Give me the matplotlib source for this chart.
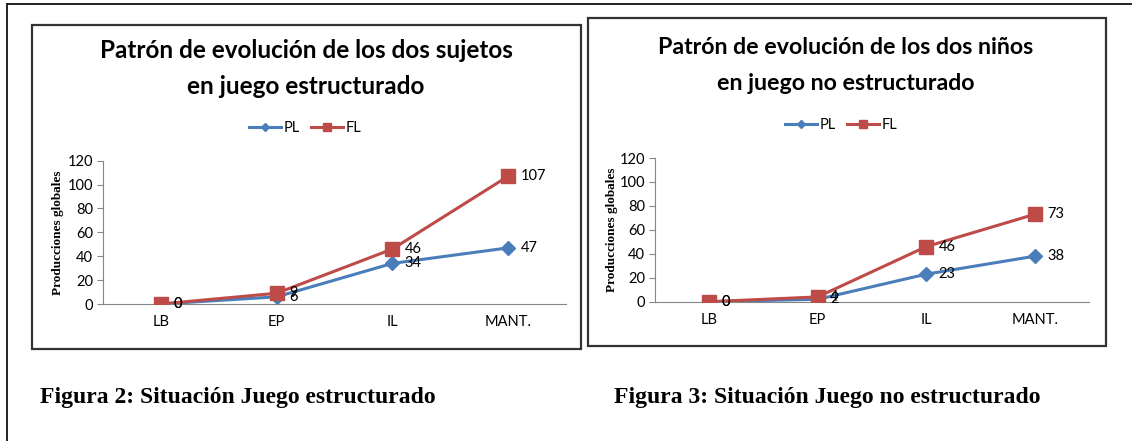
import matplotlib
matplotlib.use("Agg")
import matplotlib.pyplot as plt
from matplotlib.patches import Rectangle
from matplotlib.lines import Line2D

# data
categories = ["LB", "EP", "IL", "MANT."]
pl_estructurado = [0, 6, 34, 47]
fl_estructurado = [0, 9, 46, 107]
pl_no_estructurado = [0, 2, 23, 38]
fl_no_estructurado = [0, 4, 46, 73]

titles = [
    ("Patrón de evolución de los dos sujetos", "en juego estructurado"),
    ("Patrón de evolución de los dos niños", "en juego no estructurado"),
]
captions = ["Figura 2: Situación Juego estructurado",
            "Figura 3: Situación Juego no estructurado"]
ylabel = "Producciones globales"

W, H = 1132, 441
BLUE = "#4a7ebb"
RED = "#be4b48"
GRID = "#868686"
SANS = ["Lato", "DejaVu Sans"]
SERIF = ["Liberation Serif", "DejaVu Serif"]

fig = plt.figure(figsize=(W / 100, H / 100), dpi=100)
fig.patch.set_facecolor("white")


def fx(x):
    return x / W


def fy(y):
    return 1 - y / H


# outer page frame (top and left edges only)
fig.add_artist(Line2D([fx(7), 1], [fy(4), fy(4)], color="#222222", lw=1.4))
fig.add_artist(Line2D([fx(7), fx(7)], [fy(4), 0], color="#222222", lw=1.4))

# per chart: box (x0,y0,x1,y1), axes (left, right, y0 pixel, y120 pixel),
# title centre x, title line y's, title size, legend centre, caption x
layouts = [
    dict(box=(32, 25, 581, 349), ax=(103, 566, 304, 160.7), tx=306,
         ty=(50, 87), tsize=17.5, leg=(305, 128), ylab_x=58, cap_x=40),
    dict(box=(588, 18, 1106, 346), ax=(655, 1089, 301.7, 158), tx=846,
         ty=(48, 83), tsize=16.7, leg=(841, 125), ylab_x=612, cap_x=614),
]
series = [(pl_estructurado, fl_estructurado),
          (pl_no_estructurado, fl_no_estructurado)]

for lay, (pl, fl), (t1, t2), cap in zip(layouts, series, titles, captions):
    x0, y0, x1, y1 = lay["box"]
    fig.add_artist(Rectangle((fx(x0), fy(y1)), fx(x1 - x0), (y1 - y0) / H,
                             fill=False, edgecolor="#333333", lw=1.6))

    fig.text(fx(lay["tx"]), fy(lay["ty"][0]), t1, ha="center", va="center",
             fontsize=lay["tsize"], fontweight="bold", family=SANS)
    fig.text(fx(lay["tx"]), fy(lay["ty"][1]), t2, ha="center", va="center",
             fontsize=lay["tsize"], fontweight="bold", family=SANS)

    al, ar, a0, a120 = lay["ax"]
    ax = fig.add_axes([fx(al), fy(a0), fx(ar - al), (a0 - a120) / H])
    xs = list(range(len(categories)))
    lp, = ax.plot(xs, pl, color=BLUE, lw=2.2, marker="D", markersize=7.5,
                  mfc=BLUE, mec=BLUE, label="PL", zorder=3)
    lf, = ax.plot(xs, fl, color=RED, lw=2.2, marker="s", markersize=9.5,
                  mfc=RED, mec=RED, label="FL", zorder=4)
    for vals in (pl, fl):
        for i, v in enumerate(vals):
            ax.annotate(str(v), (i, v), xytext=(9, 0), textcoords="offset points",
                        ha="left", va="center", fontsize=10.5, family=SANS,
                        zorder=5)

    ax.set_xlim(-0.5, 3.5)
    ax.set_ylim(0, 120)
    ax.set_yticks(range(0, 121, 20))
    ax.set_xticks(xs)
    ax.set_xticklabels(categories)
    for s in ("top", "right"):
        ax.spines[s].set_visible(False)
    for s in ("left", "bottom"):
        ax.spines[s].set_color(GRID)
        ax.spines[s].set_linewidth(0.8)
    ax.tick_params(axis="y", length=4, color=GRID, labelsize=10.5, pad=3)
    ax.tick_params(axis="x", length=0, labelsize=10.5, pad=8)
    for lab in ax.get_xticklabels() + ax.get_yticklabels():
        lab.set_family(SANS)
    ax.patch.set_alpha(0)

    fig.text(fx(lay["ylab_x"]), fy((a0 + a120) / 2), ylabel, rotation=90,
             ha="center", va="center", fontsize=9.5, fontweight="bold",
             family=SERIF)

    lx, ly = lay["leg"]
    fig.legend(handles=[lp, lf], loc="center", bbox_to_anchor=(fx(lx), fy(ly)),
               ncol=2, frameon=False, markerscale=0.6, handlelength=2.2,
               handletextpad=0.15, columnspacing=0.8,
               prop=dict(family=SANS, size=10.5))

    fig.text(fx(lay["cap_x"]), fy(397), cap, ha="left", va="center",
             fontsize=17, fontweight="bold", family=SERIF)

fig.savefig("out.png", dpi=100)
